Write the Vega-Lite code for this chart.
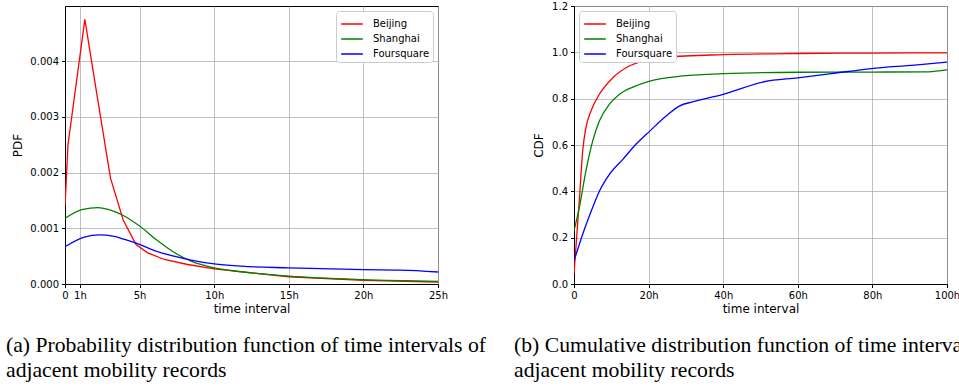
{
  "$schema": "https://vega.github.io/schema/vega-lite/v6.json",
  "background": "white",
  "padding": {"left": 5, "top": 0, "right": 0, "bottom": 0},
  "spacing": 136,
  "bounds": "flush",
  "config": {
    "view": {"stroke": "black", "strokeWidth": 1},
    "axis": {
      "domainColor": "black", "domainWidth": 1, "tickColor": "black", "tickSize": 3.5, "tickWidth": 1,
      "labelFont": "DejaVu Sans", "labelFontSize": 10, "labelColor": "black", "labelPadding": 3,
      "titleFont": "DejaVu Sans", "titleFontSize": 12, "titleFontWeight": "normal", "titleColor": "black",
      "gridColor": "#b0b0b0", "gridWidth": 0.8, "gridOpacity": 1
    },
    "legend": {
      "symbolType": "M -1.2 0 L 1.2 0", "symbolSize": 324, "symbolStrokeWidth": 1.5, "symbolOffset": 3,
      "labelFont": "DejaVu Sans", "labelFontSize": 10, "labelColor": "black", "labelOffset": 11,
      "fillColor": "white", "strokeColor": "#cccccc", "cornerRadius": 3, "padding": 3, "rowPadding": 0
    },
    "title": {"font": "Liberation Serif", "fontSize": 21.7, "fontWeight": "normal", "color": "black"}
  },
  "datasets": {
    "pdf": [
      {"x": 0, "v": 0.0014, "city": "Beijing"},
      {"x": 0.2, "v": 0.0025, "city": "Beijing"},
      {"x": 1.33, "v": 0.00475, "city": "Beijing"},
      {"x": 2.2, "v": 0.0033, "city": "Beijing"},
      {"x": 3.05, "v": 0.0019, "city": "Beijing"},
      {"x": 3.9, "v": 0.00115, "city": "Beijing"},
      {"x": 4.76, "v": 0.00071, "city": "Beijing"},
      {"x": 5.54, "v": 0.00056, "city": "Beijing"},
      {"x": 6.66, "v": 0.00044, "city": "Beijing"},
      {"x": 8.22, "v": 0.00035, "city": "Beijing"},
      {"x": 10, "v": 0.00027, "city": "Beijing"},
      {"x": 12.5, "v": 0.0002, "city": "Beijing"},
      {"x": 15, "v": 0.00013, "city": "Beijing"},
      {"x": 20, "v": 0.000066, "city": "Beijing"},
      {"x": 25, "v": 0.000036, "city": "Beijing"},
      {"x": 0, "v": 0.00118, "city": "Shanghai"},
      {"x": 1.2, "v": 0.00134, "city": "Shanghai"},
      {"x": 2.2, "v": 0.00137, "city": "Shanghai"},
      {"x": 3.1, "v": 0.00132, "city": "Shanghai"},
      {"x": 3.9, "v": 0.00123, "city": "Shanghai"},
      {"x": 5.0, "v": 0.00104, "city": "Shanghai"},
      {"x": 6.2, "v": 0.00078, "city": "Shanghai"},
      {"x": 7.3, "v": 0.00057, "city": "Shanghai"},
      {"x": 8.45, "v": 0.00041, "city": "Shanghai"},
      {"x": 10, "v": 0.00029, "city": "Shanghai"},
      {"x": 11.8, "v": 0.00022, "city": "Shanghai"},
      {"x": 15, "v": 0.00014, "city": "Shanghai"},
      {"x": 20, "v": 0.000078, "city": "Shanghai"},
      {"x": 25, "v": 0.000048, "city": "Shanghai"},
      {"x": 0, "v": 0.00067, "city": "Foursquare"},
      {"x": 1.3, "v": 0.00084, "city": "Foursquare"},
      {"x": 2.3, "v": 0.00088, "city": "Foursquare"},
      {"x": 3.2, "v": 0.00086, "city": "Foursquare"},
      {"x": 4.0, "v": 0.0008, "city": "Foursquare"},
      {"x": 5.0, "v": 0.00071, "city": "Foursquare"},
      {"x": 6.0, "v": 0.0006, "city": "Foursquare"},
      {"x": 7.3, "v": 0.0005, "city": "Foursquare"},
      {"x": 8.45, "v": 0.00043, "city": "Foursquare"},
      {"x": 10, "v": 0.00036, "city": "Foursquare"},
      {"x": 11.8, "v": 0.00032, "city": "Foursquare"},
      {"x": 15, "v": 0.00029, "city": "Foursquare"},
      {"x": 20, "v": 0.000257, "city": "Foursquare"},
      {"x": 22.5, "v": 0.00025, "city": "Foursquare"},
      {"x": 25, "v": 0.000215, "city": "Foursquare"}
    ],
    "cdf": [
      {"x": 0, "v": 0.043, "city": "Beijing"},
      {"x": 1.42, "v": 0.36, "city": "Beijing"},
      {"x": 2.33, "v": 0.574, "city": "Beijing"},
      {"x": 3.2, "v": 0.675, "city": "Beijing"},
      {"x": 4.56, "v": 0.747, "city": "Beijing"},
      {"x": 6.8, "v": 0.819, "city": "Beijing"},
      {"x": 10.4, "v": 0.89, "city": "Beijing"},
      {"x": 14.8, "v": 0.941, "city": "Beijing"},
      {"x": 19.3, "v": 0.966, "city": "Beijing"},
      {"x": 24.7, "v": 0.98, "city": "Beijing"},
      {"x": 40, "v": 0.99, "city": "Beijing"},
      {"x": 60, "v": 0.995, "city": "Beijing"},
      {"x": 80, "v": 0.997, "city": "Beijing"},
      {"x": 100, "v": 0.998, "city": "Beijing"},
      {"x": 0, "v": 0.229, "city": "Shanghai"},
      {"x": 1.42, "v": 0.33, "city": "Shanghai"},
      {"x": 3.2, "v": 0.488, "city": "Shanghai"},
      {"x": 5, "v": 0.617, "city": "Shanghai"},
      {"x": 6.8, "v": 0.704, "city": "Shanghai"},
      {"x": 9.5, "v": 0.776, "city": "Shanghai"},
      {"x": 12.2, "v": 0.819, "city": "Shanghai"},
      {"x": 15.8, "v": 0.85, "city": "Shanghai"},
      {"x": 20.3, "v": 0.876, "city": "Shanghai"},
      {"x": 29.2, "v": 0.898, "city": "Shanghai"},
      {"x": 40, "v": 0.908, "city": "Shanghai"},
      {"x": 60, "v": 0.914, "city": "Shanghai"},
      {"x": 80, "v": 0.915, "city": "Shanghai"},
      {"x": 95, "v": 0.916, "city": "Shanghai"},
      {"x": 100, "v": 0.924, "city": "Shanghai"},
      {"x": 0, "v": 0.099, "city": "Foursquare"},
      {"x": 2.33, "v": 0.215, "city": "Foursquare"},
      {"x": 5, "v": 0.33, "city": "Foursquare"},
      {"x": 6.8, "v": 0.4, "city": "Foursquare"},
      {"x": 9.5, "v": 0.473, "city": "Foursquare"},
      {"x": 13.1, "v": 0.538, "city": "Foursquare"},
      {"x": 16.6, "v": 0.603, "city": "Foursquare"},
      {"x": 20.3, "v": 0.66, "city": "Foursquare"},
      {"x": 24.7, "v": 0.725, "city": "Foursquare"},
      {"x": 28.2, "v": 0.768, "city": "Foursquare"},
      {"x": 32, "v": 0.787, "city": "Foursquare"},
      {"x": 40, "v": 0.819, "city": "Foursquare"},
      {"x": 51, "v": 0.873, "city": "Foursquare"},
      {"x": 60, "v": 0.89, "city": "Foursquare"},
      {"x": 69, "v": 0.908, "city": "Foursquare"},
      {"x": 79.7, "v": 0.93, "city": "Foursquare"},
      {"x": 91.3, "v": 0.945, "city": "Foursquare"},
      {"x": 100, "v": 0.958, "city": "Foursquare"}
    ]
  },
  "hconcat": [
    {
      "width": 373,
      "height": 278,
      "data": {"name": "pdf"},
      "title": {
        "text": ["(a) Probability distribution function of time intervals of", "adjacent mobility records"],
        "orient": "bottom", "anchor": "start", "frame": "group", "dx": -59, "offset": 20, "lineHeight": 25, "baseline": "top"
      },
      "encoding": {
        "x": {
          "field": "x", "type": "quantitative", "title": "time interval",
          "scale": {"domain": [0, 25], "nice": false, "zero": false},
          "axis": {"values": [0, 1, 5, 10, 15, 20, 25], "labelExpr": "datum.value == 0 ? '0' : datum.value + 'h'", "titlePadding": 3, "labelFlush": false}
        },
        "y": {
          "field": "v", "type": "quantitative", "title": "PDF",
          "scale": {"domain": [0, 0.00499], "nice": false},
          "axis": {"values": [0, 0.001, 0.002, 0.003, 0.004], "format": ".3f", "titlePadding": 5}
        },
        "color": {
          "field": "city", "type": "nominal",
          "scale": {"domain": ["Beijing", "Shanghai", "Foursquare"], "range": ["#ff0000", "#008000", "#0000ff"]},
          "legend": {"title": null, "orient": "none", "legendX": 271, "legendY": 5}
        }
      },
      "layer": [
        {
          "transform": [{"filter": "datum.city == 'Beijing'"}],
          "mark": {"type": "line", "strokeWidth": 1.3, "interpolate": "linear", "clip": true}
        },
        {
          "transform": [{"filter": "datum.city != 'Beijing'"}],
          "mark": {"type": "line", "strokeWidth": 1.3, "interpolate": "monotone", "clip": true}
        }
      ]
    },
    {
      "width": 373,
      "height": 278,
      "data": {"name": "cdf"},
      "title": {
        "text": ["(b) Cumulative distribution function of time intervals of", "adjacent mobility records"],
        "orient": "bottom", "anchor": "start", "frame": "group", "dx": -60, "offset": 20, "lineHeight": 25, "baseline": "top"
      },
      "mark": {"type": "line", "strokeWidth": 1.3, "interpolate": "monotone", "clip": true},
      "encoding": {
        "x": {
          "field": "x", "type": "quantitative", "title": "time interval",
          "scale": {"domain": [0, 100], "nice": false},
          "axis": {"values": [0, 20, 40, 60, 80, 100], "labelExpr": "datum.value == 0 ? '0' : datum.value + 'h'", "titlePadding": 3, "labelFlush": false}
        },
        "y": {
          "field": "v", "type": "quantitative", "title": "CDF",
          "scale": {"domain": [0, 1.2], "nice": false},
          "axis": {"values": [0, 0.2, 0.4, 0.6, 0.8, 1.0, 1.2], "format": ".1f", "titlePadding": 6}
        },
        "color": {
          "field": "city", "type": "nominal",
          "scale": {"domain": ["Beijing", "Shanghai", "Foursquare"], "range": ["#ff0000", "#008000", "#0000ff"]},
          "legend": {"title": null, "orient": "none", "legendX": 5, "legendY": 5}
        }
      }
    }
  ],
  "resolve": {"scale": {"color": "shared"}, "legend": {"color": "independent"}}
}
